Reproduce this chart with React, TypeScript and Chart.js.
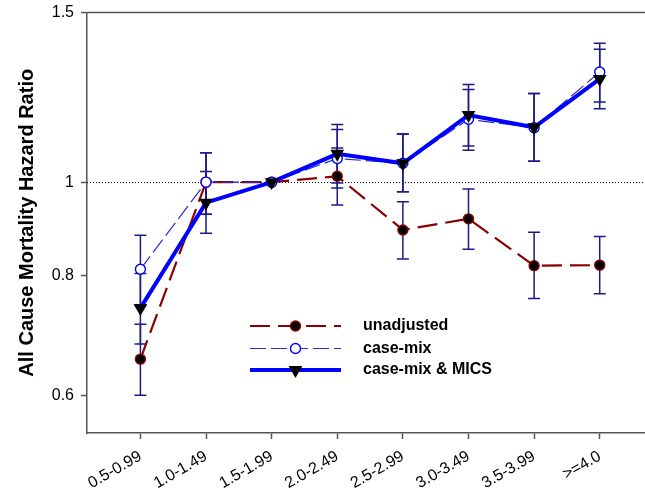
import React, { useEffect, useRef } from "react";
import { Chart, registerables } from "chart.js";

Chart.register(...registerables);

const categories = ["0.5-0.99", "1.0-1.49", "1.5-1.99", "2.0-2.49", "2.5-2.99", "3.0-3.49", "3.5-3.99", ">=4.0"];
const yTickValues = [0.6, 0.8, 1, 1.5];

const unadjusted = [0.655, 1.0, 1.0, 1.014, 0.892, 0.916, 0.819, 0.82];
const unadjustedLow = [0.601, 0.926, null, 0.947, 0.832, 0.852, 0.757, 0.766];
const unadjustedHigh = [0.712, 1.073, null, 1.085, 0.954, 0.984, 0.887, 0.878];

const caseMix = [0.812, 1.0, 1.0, 1.058, 1.046, 1.162, 1.139, 1.301];
const caseMixLow = [0.746, 0.926, null, 0.986, 0.977, 1.079, 1.051, 1.211];
const caseMixHigh = [0.881, 1.073, null, 1.134, 1.122, 1.248, 1.236, 1.394];

const caseMixMics = [0.74, 0.952, 1.0, 1.07, 1.046, 1.174, 1.14, 1.28];
const caseMixMicsLow = [0.679, 0.885, null, 0.998, 0.977, 1.09, 1.051, 1.192];
const caseMixMicsHigh = [0.804, 1.026, null, 1.148, 1.122, 1.263, 1.236, 1.374];

const seriesLabels = ["unadjusted", "case-mix", "case-mix & MICS"];
const yTitle = "All Cause Mortality Hazard Ratio";

const FONT = "'Liberation Sans', Arial, Helvetica, sans-serif";
const ERR_COLOR = "#1a1a8a";
const AXIS_COLOR = "#555555";

type Style = {
  color: string;
  width: number;
  dash: number[];
  marker: "circle" | "triangle";
  fill: string;
  stroke: string;
};

const styles: Style[] = [
  { color: "#8b0000", width: 2.2, dash: [20, 8], marker: "circle", fill: "#000000", stroke: "#8b0000" },
  { color: "#2b2bd0", width: 1.2, dash: [16, 5], marker: "circle", fill: "#ffffff", stroke: "#0000ff" },
  { color: "#0000ff", width: 4, dash: [], marker: "triangle", fill: "#000000", stroke: "#000000" },
];

const errorSeries = [
  { low: unadjustedLow, high: unadjustedHigh },
  { low: caseMixLow, high: caseMixHigh },
  { low: caseMixMicsLow, high: caseMixMicsHigh },
];

function drawMarker(ctx: CanvasRenderingContext2D, s: Style, x: number, y: number) {
  ctx.save();
  ctx.setLineDash([]);
  ctx.fillStyle = s.fill;
  ctx.strokeStyle = s.stroke;
  ctx.lineWidth = 1.4;
  ctx.beginPath();
  if (s.marker === "circle") {
    ctx.arc(x, y, 5, 0, Math.PI * 2);
  } else {
    const r = 6.5;
    ctx.moveTo(x - r * 0.866, y - r * 0.5);
    ctx.lineTo(x + r * 0.866, y - r * 0.5);
    ctx.lineTo(x, y + r);
    ctx.closePath();
  }
  ctx.fill();
  ctx.stroke();
  ctx.restore();
}

const decorPlugin = {
  id: "decor",
  beforeDatasetsDraw(chart: any) {
    const { ctx, chartArea, scales } = chart;
    const x = scales.x;
    const y = scales.y;
    ctx.save();
    // reference line at 1
    const y1 = Math.round(y.getPixelForValue(1)) + 0.5;
    ctx.strokeStyle = "#000";
    ctx.lineWidth = 1;
    ctx.setLineDash([1, 2]);
    ctx.beginPath();
    ctx.moveTo(chartArea.left, y1);
    ctx.lineTo(chartArea.right, y1);
    ctx.stroke();
    ctx.setLineDash([]);
    // error bars
    ctx.strokeStyle = ERR_COLOR;
    ctx.lineWidth = 1.5;
    errorSeries.forEach((s) => {
      s.low.forEach((lo, i) => {
        const hi = s.high[i];
        if (lo == null || hi == null) return;
        const px = x.getPixelForValue(i);
        const pl = y.getPixelForValue(lo);
        const ph = y.getPixelForValue(hi);
        ctx.beginPath();
        ctx.moveTo(px, pl);
        ctx.lineTo(px, ph);
        ctx.moveTo(px - 6, pl);
        ctx.lineTo(px + 6, pl);
        ctx.moveTo(px - 6, ph);
        ctx.lineTo(px + 6, ph);
        ctx.stroke();
      });
    });
    ctx.restore();
  },
  afterDraw(chart: any) {
    const { ctx, chartArea } = chart;
    ctx.save();
    // top frame line
    ctx.strokeStyle = AXIS_COLOR;
    ctx.lineWidth = 1.5;
    ctx.beginPath();
    ctx.moveTo(chartArea.left, chartArea.top);
    ctx.lineTo(chartArea.right, chartArea.top);
    ctx.stroke();
    // legend
    const x0 = chartArea.left + 163;
    const x1 = chartArea.left + 254;
    const xm = (x0 + x1) / 2;
    const xt = chartArea.left + 276;
    const rowY = [chartArea.top + 313.5, chartArea.top + 336, chartArea.top + 357.5];
    seriesLabels.forEach((label, i) => {
      const s = styles[i];
      const yy = rowY[i];
      ctx.strokeStyle = s.color;
      ctx.lineWidth = s.width;
      ctx.setLineDash(s.dash);
      ctx.beginPath();
      ctx.moveTo(x0, yy);
      ctx.lineTo(x1, yy);
      ctx.stroke();
      ctx.setLineDash([]);
      drawMarker(ctx, s, xm, yy);
      ctx.fillStyle = "#000";
      ctx.font = `bold 16px ${FONT}`;
      ctx.textAlign = "left";
      ctx.textBaseline = "middle";
      ctx.fillText(label, xt, yy);
    });
    ctx.restore();
  },
};

export default function App() {
  const canvasRef = useRef<HTMLCanvasElement | null>(null);

  useEffect(() => {
    if (!canvasRef.current) return;
    Chart.defaults.font.family = FONT;
    const mk = (vals: number[]) => vals.map((v, i) => ({ x: i, y: v }));
    const datasets = [unadjusted, caseMix, caseMixMics].map((vals, i) => {
      const s = styles[i];
      return {
        label: seriesLabels[i],
        data: mk(vals),
        borderColor: s.color,
        borderWidth: s.width,
        borderDash: s.dash,
        backgroundColor: s.color,
        pointStyle: s.marker === "circle" ? "circle" : "triangle",
        pointRotation: s.marker === "triangle" ? 180 : 0,
        pointRadius: s.marker === "circle" ? 5 : 6.5,
        pointBackgroundColor: s.fill,
        pointBorderColor: s.stroke,
        pointBorderWidth: 1.4,
        tension: 0,
        fill: false,
        order: 3 - i,
      };
    });

    const chart = new Chart(canvasRef.current, {
      type: "line",
      data: { datasets },
      options: {
        animation: false,
        responsive: false,
        maintainAspectRatio: false,
        devicePixelRatio: 1,
        layout: { autoPadding: false, padding: { left: 0, right: 0, top: 12.5, bottom: 0 } },
        plugins: { legend: { display: false }, tooltip: { enabled: false } },
        scales: {
          x: {
            type: "linear",
            min: -0.814,
            max: 7.69,
            grid: {
              display: true,
              drawOnChartArea: false,
              drawTicks: true,
              tickLength: 6,
              tickColor: AXIS_COLOR,
              tickWidth: 1.5,
              color: "rgba(0,0,0,0)",
            },
            border: { display: true, color: AXIS_COLOR, width: 1.5 },
            ticks: {
              autoSkip: false,
              minRotation: 30,
              maxRotation: 30,
              color: "#000",
              padding: 8,
              font: { size: 16, family: FONT },
              callback: (v: any) => categories[Math.round(Number(v))] ?? "",
            },
            afterBuildTicks: (scale: any) => {
              scale.ticks = categories.map((_, i) => ({ value: i }));
            },
            afterFit: (scale: any) => {
              scale.height = 57;
              scale.paddingLeft = 0;
              scale.paddingRight = 0;
            },
          },
          y: {
            type: "logarithmic",
            min: 0.549,
            max: 1.5,
            grid: {
              display: true,
              drawOnChartArea: false,
              drawTicks: true,
              tickLength: 6,
              tickColor: AXIS_COLOR,
              tickWidth: 1.5,
              color: "rgba(0,0,0,0)",
            },
            border: { display: true, color: AXIS_COLOR, width: 1.5 },
            ticks: {
              color: "#000",
              padding: 7,
              font: { size: 16, family: FONT },
              callback: (v: any) => `${Number(v)}`,
            },
            title: {
              display: true,
              text: yTitle,
              color: "#000",
              font: { size: 20, weight: "bold", family: FONT },
              padding: { top: 15, bottom: 0 },
            },
            afterBuildTicks: (scale: any) => {
              scale.ticks = yTickValues.map((v) => ({ value: v }));
            },
            afterFit: (scale: any) => {
              scale.width = 87;
              scale.paddingTop = 0;
              scale.paddingBottom = 0;
            },
          },
        },
      },
      plugins: [decorPlugin],
    } as any);

    return () => chart.destroy();
  }, []);

  return (
    <div style={{ position: "absolute", left: 0, top: 0, width: 645, height: 490, background: "#fff" }}>
      <canvas ref={canvasRef} width={645} height={490} style={{ width: 645, height: 490, display: "block" }} />
    </div>
  );
}
